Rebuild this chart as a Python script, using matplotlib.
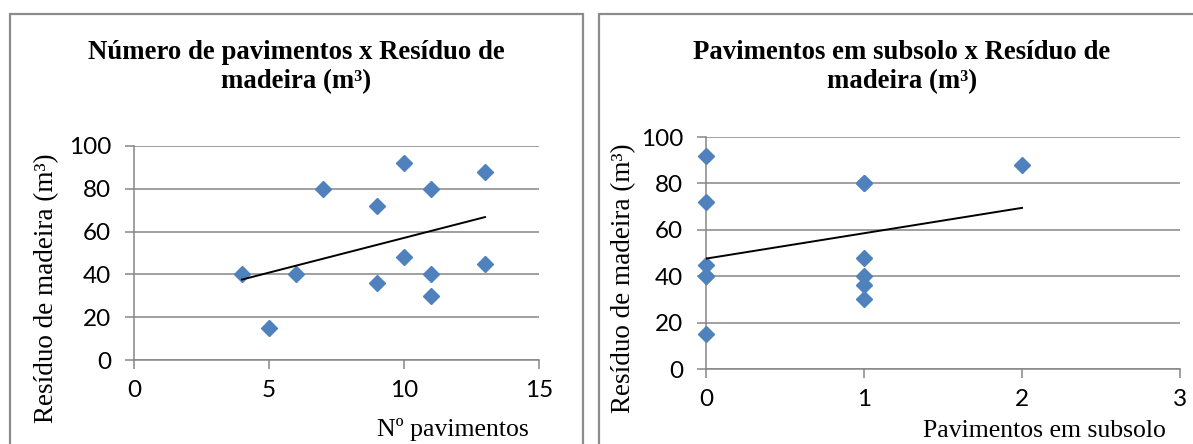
import matplotlib
matplotlib.use("Agg")
import matplotlib.pyplot as plt
from matplotlib.patches import Rectangle
import numpy as np

# residuo de madeira por obra
pavimentos = [4, 5, 6, 7, 9, 9, 10, 10, 11, 11, 11, 13, 13]
residuo_pav = [40, 15, 40, 80, 72, 36, 92, 48, 80, 40, 30, 88, 45]

subsolo = [0, 0, 0, 0, 0, 0, 1, 1, 1, 1, 1, 1, 2]
residuo_sub = [92, 72, 45, 40, 40, 15, 80, 80, 48, 40, 36, 30, 88]

y_ticks = [0, 20, 40, 60, 80, 100]
x_ticks_pav = [0, 5, 10, 15]
x_ticks_sub = [0, 1, 2, 3]

BLUE = "#4f81bd"
GRID = "#868686"
SERIF = "Liberation Serif"
SANS = "Lato"

W, H = 1193, 444
fig = plt.figure(figsize=(W / 100, H / 100), dpi=100)


def px(x0, y0, x1, y1):
    # pixel box -> figure fraction [left, bottom, width, height]
    return [x0 / W, 1 - y1 / H, (x1 - x0) / W, (y1 - y0) / H]


def scatter_panel(rect, xs, ys, xticks, title, xlabel, title_x, ylabel_x,
                  ylabel_y, xlabel_x, xlabel_y):
    ax = fig.add_axes(rect)
    ax.plot(xs, ys, linestyle="none", marker="D", markersize=8,
            color=BLUE, clip_on=False, zorder=3)

    # linear trend line
    k, b = np.polyfit(xs, ys, 1)
    xr = np.array([min(xs), max(xs)])
    ax.plot(xr, k * xr + b, color="black", lw=1.4, zorder=4)

    ax.set_xlim(xticks[0], xticks[-1])
    ax.set_ylim(y_ticks[0], y_ticks[-1])
    ax.set_xticks(xticks)
    ax.set_yticks(y_ticks)
    ax.grid(axis="y", color=GRID, lw=1.1)
    ax.set_axisbelow(True)
    for s in ["top", "right"]:
        ax.spines[s].set_visible(False)
    for s in ["left", "bottom"]:
        ax.spines[s].set_color(GRID)
        ax.spines[s].set_linewidth(1.1)
    ax.tick_params(axis="both", direction="out", length=6.5, width=1.1,
                   color=GRID, labelsize=17.5, labelcolor="black")
    ax.tick_params(axis="x", pad=8)
    ax.tick_params(axis="y", pad=10)
    for lbl in ax.get_xticklabels() + ax.get_yticklabels():
        lbl.set_fontfamily(SANS)

    fig.text(title_x / W, 1 - 40 / H, title, ha="center", va="top",
             fontsize=19.3, fontweight="bold", family=SERIF, linespacing=1.2)
    fig.text(ylabel_x / W, 1 - ylabel_y / H, "Resíduo de madeira (m³)",
             rotation=90, ha="center", va="center", fontsize=19.5, family=SERIF)
    fig.text(xlabel_x / W, 1 - xlabel_y / H, xlabel, ha="right",
             va="baseline", fontsize=18.5, family=SERIF)
    return ax


# panel borders
for x0, x1 in [(10, 583), (599, 1215)]:
    fig.patches.append(Rectangle((x0 / W, -0.1), (x1 - x0) / W, 1 - 14 / H + 0.1,
                                 transform=fig.transFigure, fill=False,
                                 edgecolor="#8c8c8c", lw=1.6))

scatter_panel(px(134, 146, 539, 360), pavimentos, residuo_pav, x_ticks_pav,
              "Número de pavimentos x Resíduo de\nmadeira (m³)",
              "Nº pavimentos", 296, 47, 288, 529, 436)

scatter_panel(px(706, 137, 1180, 369), subsolo, residuo_sub, x_ticks_sub,
              "Pavimentos em subsolo x Resíduo de\nmadeira (m³)",
              "Pavimentos em subsolo", 902, 624, 278, 1166, 437)

fig.savefig("out.png", dpi=100)
